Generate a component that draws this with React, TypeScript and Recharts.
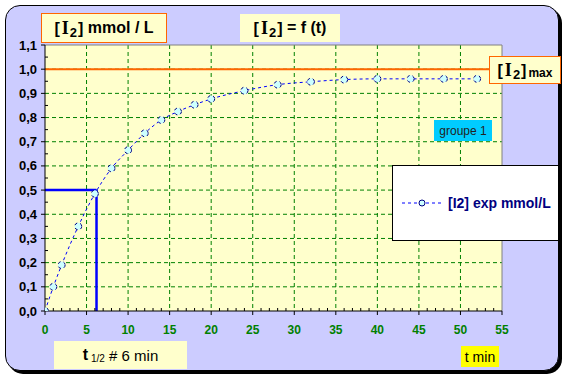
import React from 'react';
import { ComposedChart, Line, XAxis, YAxis, CartesianGrid, ReferenceLine, Legend } from 'recharts';

// ---- data ----
const times = [0, 1, 2, 4, 6, 8, 10, 12, 14, 16, 18, 20, 24, 28, 32, 36, 40, 44, 48, 52];
const conc = [0, 0.1, 0.19, 0.35, 0.485, 0.59, 0.665, 0.735, 0.79, 0.825, 0.853, 0.877, 0.911, 0.936, 0.948, 0.957, 0.96, 0.96, 0.96, 0.96];
const seriesName = '[I2] exp mmol/L';
const cMax = 1.0;
const halfLifeT = 6.2;
const halfConc = 0.5;

const xTicks = [0, 1, 2, 3, 4, 5, 6, 7, 8, 9, 10, 11, 12, 13, 14, 15, 16, 17, 18, 19, 20, 21, 22, 23, 24, 25, 26, 27, 28, 29, 30, 31, 32, 33, 34, 35, 36, 37, 38, 39, 40, 41, 42, 43, 44, 45, 46, 47, 48, 49, 50, 51, 52, 53, 54, 55];
const yTicks = [0, 0.05, 0.1, 0.15, 0.2, 0.25, 0.3, 0.35, 0.4, 0.45, 0.5, 0.55, 0.6, 0.65, 0.7, 0.75, 0.8, 0.85, 0.9, 0.95, 1.0, 1.05, 1.1];
const xGrid = [5, 10, 15, 20, 25, 30, 35, 40, 45, 50];
const yGrid = [0.1, 0.2, 0.3, 0.4, 0.5, 0.6, 0.7, 0.8, 0.9, 1.0];

const data = times.map((t, i) => ({ t, c: conc[i] }));

const FONT = '"Liberation Sans", Arial, sans-serif';
const SERIF = '"Liberation Serif", "Times New Roman", serif';

const XTick = (props: any) => {
  const { x, y, payload } = props;
  const v = payload.value;
  const major = Math.round(v) % 5 === 0;
  return (
    <g>
      {major ? (
        <line x1={x} x2={x} y1={y} y2={y + 4} stroke="#000" strokeWidth={1} />
      ) : (
        <line x1={x} x2={x} y1={y - 3} y2={y} stroke="#000" strokeWidth={1} />
      )}
      {major && (
        <text x={x} y={y + 19} textAnchor="middle" dominantBaseline="central" fill="#008000" fontSize={12} fontWeight="bold" fontFamily={FONT}>
          {v}
        </text>
      )}
    </g>
  );
};

const YTick = (props: any) => {
  const { x, y, payload } = props;
  const v = payload.value;
  const major = Math.round(v * 20) % 2 === 0;
  return (
    <g>
      {major ? (
        <line x1={x - 4} x2={x} y1={y} y2={y} stroke="#000" strokeWidth={1} />
      ) : (
        <line x1={x} x2={x + 3} y1={y} y2={y} stroke="#000" strokeWidth={1} />
      )}
      {major && (
        <text x={x - 8} y={y} textAnchor="end" dominantBaseline="central" fill="#000" fontSize={13} fontWeight="bold" fontFamily={FONT}>
          {v.toFixed(1).replace('.', ',')}
        </text>
      )}
    </g>
  );
};

const LegendBox = () => (
  <div
    style={{
      width: 167,
      height: 76,
      boxSizing: 'border-box',
      background: '#FFFFFF',
      border: '1px solid #000',
      display: 'flex',
      alignItems: 'center',
      paddingLeft: 9,
      fontFamily: FONT,
    }}
  >
    <svg width={40} height={10} style={{ display: 'block' }}>
      <line x1={0} x2={40} y1={5} y2={5} stroke="#0000FF" strokeDasharray="3 3" />
      <circle cx={20} cy={5} r={3} fill="#CCFFFF" stroke="#000080" />
    </svg>
    <span style={{ marginLeft: 6, color: '#000080', fontWeight: 'bold', fontSize: 14 }}>{seriesName}</span>
  </div>
);

const I2 = ({ size }: { size: number }) => (
  <span style={{ fontWeight: 'bold' }}>
    [<span style={{ fontFamily: SERIF, fontWeight: 'bold', fontSize: size + 2, marginLeft: 2 }}>I</span>
    <span style={{ fontSize: size - 3, fontWeight: 'bold', position: 'relative', top: 3, marginLeft: 1, marginRight: 1 }}>2</span>]
  </span>
);

const boxBase: React.CSSProperties = {
  position: 'absolute',
  boxSizing: 'border-box',
  display: 'flex',
  alignItems: 'center',
  justifyContent: 'center',
  fontFamily: FONT,
  whiteSpace: 'nowrap',
};

export default function App() {
  return (
    <div style={{ position: 'absolute', left: 0, top: 0, width: 568, height: 380, background: '#fff', overflow: 'hidden' }}>
      {/* frame */}
      <div
        style={{
          position: 'absolute',
          left: 5,
          top: 5,
          width: 554,
          height: 366,
          boxSizing: 'border-box',
          background: '#CCCCFF',
          border: '1px solid #000',
          borderRadius: 15,
          boxShadow: '3px 3px 0 #000',
        }}
      />
      <div style={{ position: 'absolute', left: 0, top: 0 }}>
        <ComposedChart width={568} height={380} data={data} margin={{ top: 45, right: 66, left: 0, bottom: 0 }}>
          <CartesianGrid
            horizontalValues={yGrid}
            verticalValues={xGrid}
            stroke="#008000"
            strokeDasharray="4 3"
            fill="#FFFFCC"
            fillOpacity={1}
          />
          <XAxis
            dataKey="t"
            type="number"
            domain={[0, 55]}
            ticks={xTicks}
            interval={0}
            height={69}
            tickSize={0}
            tickMargin={0}
            tickLine={false}
            tick={<XTick />}
            axisLine={{ stroke: '#000', strokeWidth: 1 }}
            allowDataOverflow
          />
          <YAxis
            type="number"
            domain={[0, 1.1]}
            ticks={yTicks}
            interval={0}
            width={45}
            tickSize={0}
            tickMargin={0}
            tickLine={false}
            tick={<YTick />}
            axisLine={{ stroke: '#000', strokeWidth: 1 }}
            allowDataOverflow
          />
          <ReferenceLine y={1.1} stroke="#808080" strokeWidth={1} />
          <ReferenceLine x={55} stroke="#808080" strokeWidth={1} />
          <ReferenceLine y={cMax} stroke="#FF6600" strokeWidth={2} />
          <ReferenceLine
            segment={[{ x: halfLifeT, y: 0 }, { x: halfLifeT, y: halfConc }]}
            stroke="#0000FF"
            strokeWidth={2.5}
          />
          <ReferenceLine
            segment={[{ x: 0, y: halfConc }, { x: halfLifeT, y: halfConc }]}
            stroke="#0000FF"
            strokeWidth={2.5}
          />
          <Line
            type="monotone"
            dataKey="c"
            name={seriesName}
            stroke="#0000FF"
            strokeWidth={1}
            strokeDasharray="3 3"
            dot={{ r: 3.5, fill: '#CCFFFF', stroke: '#000080', strokeWidth: 1 }}
            isAnimationActive={false}
          />
          <Legend
            layout="horizontal"
            verticalAlign="middle"
            align="center"
            content={<LegendBox />}
            wrapperStyle={{ left: 392, top: 165, width: 167, height: 76 }}
          />
        </ComposedChart>
      </div>

      {/* Y title */}
      <div style={{ ...boxBase, left: 41, top: 13, width: 126, height: 30, background: '#FFFFCC', border: '1px solid #FF6600', fontWeight: 'bold', fontSize: 16 }}>
        <I2 size={16} />
        <span>&nbsp;mmol / L</span>
      </div>

      {/* chart title */}
      <div style={{ ...boxBase, left: 240, top: 14, width: 100, height: 28, background: '#FFFFCC', fontWeight: 'bold', fontSize: 16 }}>
        <I2 size={16} />
        <span>&nbsp;= f (t)</span>
      </div>

      {/* max label */}
      <div style={{ ...boxBase, left: 489, top: 56, width: 72, height: 28, background: '#FFFFCC', border: '1px solid #FF6600', fontWeight: 'bold', fontSize: 16 }}>
        <I2 size={16} />
        <span style={{ fontSize: 12, position: 'relative', top: 3, marginLeft: 2 }}>max</span>
      </div>

      {/* groupe 1 */}
      <div style={{ ...boxBase, left: 434, top: 120, width: 58, height: 21, background: '#00CCFF', fontSize: 12, color: '#222' }}>
        groupe 1
      </div>

      {/* half-life label */}
      <div style={{ ...boxBase, left: 54, top: 341, width: 133, height: 28, background: '#FFFFCC', fontSize: 15, color: '#000' }}>
        <span style={{ fontWeight: 'bold', fontSize: 16 }}>t</span>
        <span style={{ fontSize: 10, position: 'relative', top: 3, marginLeft: 3 }}>1/2</span>
        <span>&nbsp;# 6 min</span>
      </div>

      {/* x title */}
      <div style={{ ...boxBase, left: 461, top: 346, width: 38, height: 21, background: '#FFFF00', fontSize: 14, color: '#000' }}>
        t min
      </div>
    </div>
  );
}
